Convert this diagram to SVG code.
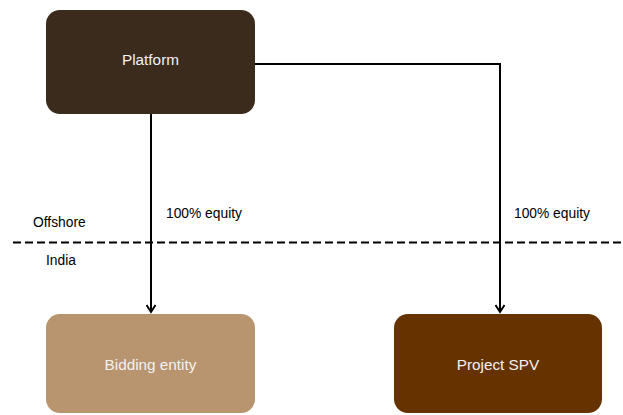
<svg xmlns="http://www.w3.org/2000/svg" width="623" height="415" viewBox="0 0 623 415">
<style>
.lbl{font-family:"Liberation Sans",Arial,sans-serif;font-size:13.8px;fill:#000}
.ntxt{font-family:"Liberation Sans",Arial,sans-serif;font-size:15.3px;fill:#f2f2f2;text-anchor:middle}
.conn{fill:none;stroke:#000;stroke-width:2}
</style>
<defs>
<marker id="arr" viewBox="0 0 10 10" refX="8" refY="5" markerWidth="10" markerHeight="10" markerUnits="userSpaceOnUse" orient="auto">
<path d="M1,0.5 L8,5 L1,9.5" fill="none" stroke="#000" stroke-width="2"/>
</marker>
</defs>
<rect x="0" y="0" width="623" height="415" fill="#fff"/>
<g id="divider">
<line x1="13" y1="242.5" x2="623" y2="242.5" stroke="#000" stroke-width="2" stroke-dasharray="8,4"/>
<text class="lbl" x="33" y="227">Offshore</text>
<text class="lbl" x="46" y="265">India</text>
</g>
<g id="connectors">
<path class="conn" d="M151,114 V312" marker-end="url(#arr)"/>
<path class="conn" d="M255,64 H500 V312" marker-end="url(#arr)"/>
<text class="lbl" x="166" y="218">100% equity</text>
<text class="lbl" x="514" y="218">100% equity</text>
</g>
<g id="platform">
<rect x="46" y="10" width="209" height="104" rx="14" fill="#3b2b1d"/>
<text class="ntxt" x="150.5" y="65">Platform</text>
</g>
<g id="bidding">
<rect x="46" y="314" width="209" height="99" rx="14" fill="#b8946f"/>
<text class="ntxt" x="150.5" y="370">Bidding entity</text>
</g>
<g id="spv">
<rect x="394" y="314" width="208" height="99" rx="14" fill="#663300"/>
<text class="ntxt" x="498" y="370">Project SPV</text>
</g>
</svg>
